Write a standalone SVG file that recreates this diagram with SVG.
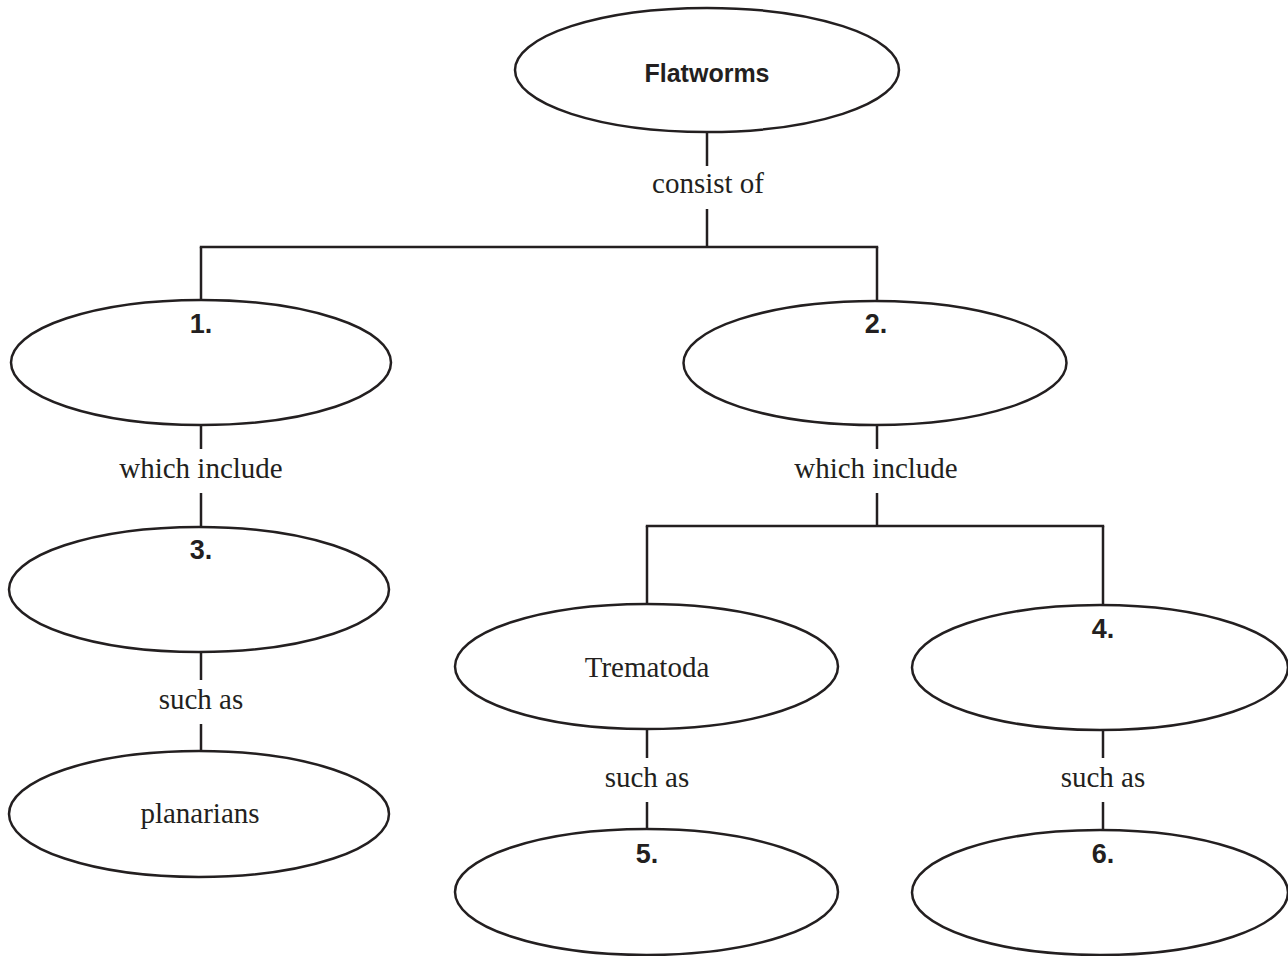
<svg xmlns="http://www.w3.org/2000/svg" width="1288" height="956" viewBox="0 0 1288 956">
<style>
.node ellipse{fill:#fff;stroke:#231f20;stroke-width:2.5}
.conn line{stroke:#231f20;stroke-width:2.5;stroke-linecap:butt}
.num{font-family:"Liberation Sans",Arial,sans-serif;font-weight:bold;font-size:27px;fill:#231f20;text-anchor:middle}
.title{font-family:"Liberation Sans",Arial,sans-serif;font-weight:bold;font-size:25px;fill:#231f20;text-anchor:middle}
.lbl{font-family:"Liberation Serif","Times New Roman",serif;font-size:29px;fill:#231f20;text-anchor:middle}
</style>
<rect width="1288" height="956" fill="#fff"/>
<g class="conn" id="connectors">
<line x1="707" y1="132" x2="707" y2="166"/>
<line x1="707" y1="209" x2="707" y2="247"/>
<line x1="199.8" y1="247" x2="878.2" y2="247"/>
<line x1="201" y1="247" x2="201" y2="300"/>
<line x1="877" y1="247" x2="877" y2="301"/>
<line x1="201" y1="425" x2="201" y2="449"/>
<line x1="201" y1="493" x2="201" y2="527"/>
<line x1="201" y1="652" x2="201" y2="680"/>
<line x1="201" y1="724" x2="201" y2="751"/>
<line x1="877" y1="425" x2="877" y2="449"/>
<line x1="877" y1="493" x2="877" y2="526"/>
<line x1="645.8" y1="526" x2="1104.2" y2="526"/>
<line x1="647" y1="526" x2="647" y2="604"/>
<line x1="1103" y1="526" x2="1103" y2="605"/>
<line x1="647" y1="729" x2="647" y2="758"/>
<line x1="647" y1="802" x2="647" y2="829"/>
<line x1="1103" y1="730" x2="1103" y2="758"/>
<line x1="1103" y1="802" x2="1103" y2="830"/>
<text class="lbl" x="708" y="193">consist of</text>
<text class="lbl" x="201" y="478">which include</text>
<text class="lbl" x="876" y="478">which include</text>
<text class="lbl" x="201" y="709">such as</text>
<text class="lbl" x="647" y="787">such as</text>
<text class="lbl" x="1103" y="787">such as</text>
</g>
<g class="node" id="flatworms">
<ellipse cx="707" cy="70" rx="192" ry="62"/>
<text class="title" x="707" y="82">Flatworms</text>
</g>
<g class="node" id="n1">
<ellipse cx="201" cy="362.5" rx="190" ry="62.5"/>
<text class="num" x="201" y="333">1.</text>
</g>
<g class="node" id="n2">
<ellipse cx="875" cy="363" rx="191.5" ry="62"/>
<text class="num" x="876" y="333">2.</text>
</g>
<g class="node" id="n3">
<ellipse cx="199" cy="589.5" rx="190" ry="62.5"/>
<text class="num" x="201" y="559">3.</text>
</g>
<g class="node" id="planarians">
<ellipse cx="199" cy="814" rx="190" ry="63"/>
<text class="lbl" x="200" y="823">planarians</text>
</g>
<g class="node" id="trematoda">
<ellipse cx="646.5" cy="666.5" rx="191.5" ry="62.5"/>
<text class="lbl" x="647" y="677">Trematoda</text>
</g>
<g class="node" id="n4">
<ellipse cx="1100" cy="667.5" rx="188" ry="62.5"/>
<text class="num" x="1103" y="638">4.</text>
</g>
<g class="node" id="n5">
<ellipse cx="646.5" cy="892" rx="191.5" ry="63"/>
<text class="num" x="647" y="863">5.</text>
</g>
<g class="node" id="n6">
<ellipse cx="1100" cy="892.5" rx="188" ry="62.5"/>
<text class="num" x="1103" y="863">6.</text>
</g>
</svg>
